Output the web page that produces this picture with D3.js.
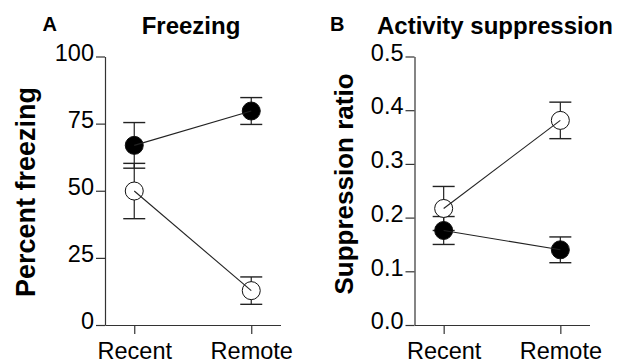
<!DOCTYPE html>
<html>
<head>
<meta charset="utf-8">
<script src="https://cdn.jsdelivr.net/npm/d3@7"></script>
<style>
  html, body { margin: 0; padding: 0; background: #fff; }
  svg { display: block; }
  text { font-family: "Liberation Sans", Arial, Helvetica, sans-serif; fill: #000; }
</style>
</head>
<body>
<svg id="chart" width="618" height="363"></svg>
<script>
// ---- data ----
const groups = ["Recent", "Remote"];

const freezingFilled = [66.9, 79.7];
const freezingFilledErr = [8.5, 5.0];
const freezingOpen = [49.9, 12.8];
const freezingOpenErr = [10.3, 5.1];
const freezingTicks = [0, 25, 50, 75, 100];

const suppFilled = [0.176, 0.140];
const suppFilledErr = [0.026, 0.024];
const suppOpen = [0.217, 0.381];
const suppOpenErr = [0.041, 0.034];
const suppTicks = [0, 0.1, 0.2, 0.3, 0.4, 0.5];

const panels = [
  { letter: "A", title: "Freezing", ylabel: "Percent freezing",
    filled: freezingFilled, filledErr: freezingFilledErr,
    open: freezingOpen, openErr: freezingOpenErr,
    ticks: freezingTicks, fmt: d3.format("d"), ymax: 100,
    x0: 105, x1: 280.5, letterX: 42.5, titleX: 191, ylabX: 35, ylabY: 192, ylabSize: 27 },
  { letter: "B", title: "Activity suppression", ylabel: "Suppression ratio",
    filled: suppFilled, filledErr: suppFilledErr,
    open: suppOpen, openErr: suppOpenErr,
    ticks: suppTicks, fmt: d3.format(".1f"), ymax: 0.5,
    x0: 414.5, x1: 589.5, letterX: 330, titleX: 495, ylabX: 353, ylabY: 184, ylabSize: 26 }
];

const svg = d3.select("#chart");
const yBottom = 325, yTop = 56.5;
const axisColor = "#333";
const lineColor = "#222";
const r = 9, cap = 11;

panels.forEach(p => {
  const g = svg.append("g");
  const x = d3.scalePoint().domain(groups).range([p.x0, p.x1]).padding(0.25);
  const y = d3.scaleLinear().domain([0, p.ymax]).range([yBottom, yTop]);

  // Y axis
  const ya = g.append("g").attr("transform", `translate(${p.x0},0)`)
    .call(d3.axisLeft(y).tickValues(p.ticks).tickFormat(p.fmt).tickSize(9).tickSizeOuter(0).tickPadding(2));
  ya.select(".domain").attr("stroke", axisColor).attr("stroke-width", 1.2);
  ya.selectAll(".tick line").attr("stroke", axisColor).attr("stroke-width", 1.2);
  ya.selectAll(".tick text").attr("font-size", 23.5).attr("font-family", "Liberation Sans, Arial, sans-serif")
    .attr("dy", "0.16em").attr("fill", "#000");

  // X axis
  const xa = g.append("g").attr("transform", `translate(0,${yBottom})`)
    .call(d3.axisBottom(x).tickSize(9).tickSizeOuter(0).tickPadding(8));
  xa.select(".domain").attr("stroke", axisColor).attr("stroke-width", 1.2);
  xa.selectAll(".tick line").attr("stroke", axisColor).attr("stroke-width", 1.2);
  xa.selectAll(".tick text").attr("font-size", 23.5).attr("font-family", "Liberation Sans, Arial, sans-serif").attr("fill", "#000");

  // Titles
  g.append("text").attr("x", p.letterX).attr("y", 31).attr("font-size", 20).attr("font-weight", "bold").text(p.letter);
  g.append("text").attr("x", p.titleX).attr("y", 33.5).attr("text-anchor", "middle")
    .attr("font-size", 24).attr("font-weight", "bold").text(p.title);

  // Y label
  g.append("text").attr("transform", `translate(${p.ylabX},${p.ylabY}) rotate(-90)`)
    .attr("text-anchor", "middle").attr("font-size", p.ylabSize).attr("font-weight", "bold").text(p.ylabel);

  const series = [
    { vals: p.open, errs: p.openErr, fill: "#fff" },
    { vals: p.filled, errs: p.filledErr, fill: "#000" }
  ];

  // Error bars
  series.forEach(s => {
    const eg = g.append("g");
    groups.forEach((c, i) => {
      const cx = x(c), hi = y(s.vals[i] + s.errs[i]), lo = y(s.vals[i] - s.errs[i]);
      eg.append("line").attr("x1", cx).attr("x2", cx).attr("y1", hi).attr("y2", lo)
        .attr("stroke", lineColor).attr("stroke-width", 1.2);
      [hi, lo].forEach(yy => eg.append("line").attr("x1", cx - cap).attr("x2", cx + cap)
        .attr("y1", yy).attr("y2", yy).attr("stroke", lineColor).attr("stroke-width", 1.4));
    });
  });

  // Markers and connecting lines
  series.forEach(s => {
    groups.forEach((c, i) => {
      g.append("circle").attr("cx", x(c)).attr("cy", y(s.vals[i])).attr("r", r)
        .attr("fill", s.fill).attr("stroke", "#111").attr("stroke-width", 1);
    });
    const line = d3.line().x((d, i) => x(groups[i])).y(d => y(d));
    g.append("path").datum(s.vals).attr("d", line).attr("fill", "none")
      .attr("stroke", lineColor).attr("stroke-width", 1.1);
  });
});
</script>
</body>
</html>
